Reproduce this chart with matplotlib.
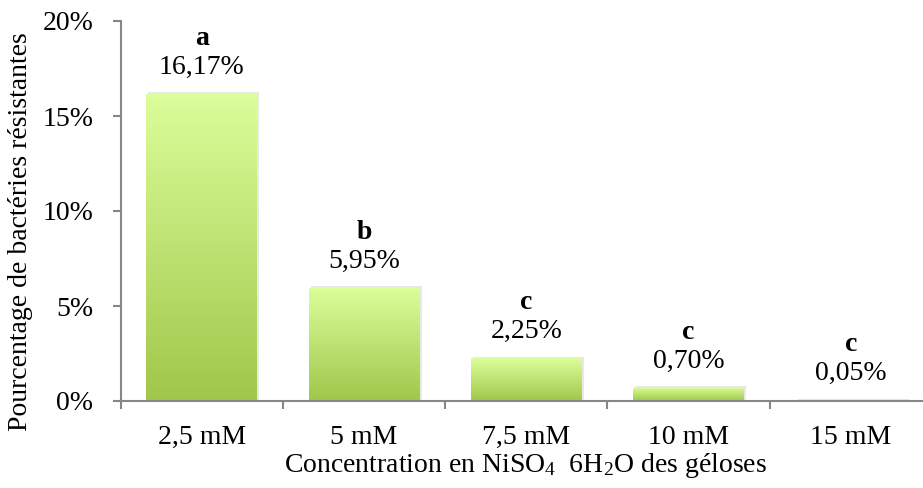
import numpy as np
import matplotlib
matplotlib.use('Agg')
import matplotlib.pyplot as plt
from matplotlib.colors import LinearSegmentedColormap
from matplotlib.patches import Rectangle

categories = ['2,5 mM', '5 mM', '7,5 mM', '10 mM', '15 mM']
values = [16.17, 5.95, 2.25, 0.70, 0.05]
letters = ['a', 'b', 'c', 'c', 'c']

plt.rcParams['font.family'] = ['Liberation Serif', 'DejaVu Serif']
plt.rcParams['mathtext.fontset'] = 'custom'
plt.rcParams['mathtext.rm'] = 'Liberation Serif'
plt.rcParams['mathtext.it'] = 'Liberation Serif:italic'
plt.rcParams['mathtext.bf'] = 'Liberation Serif:bold'

fs = 20
W, H = 923, 488
fig = plt.figure(figsize=(W / 100, H / 100), dpi=100)
# axes runs a bit past the right edge, like the original
ax = fig.add_axes([120.5 / W, 1 - 401 / H, (932 - 120.5) / W, (401 - 21) / H])

grad = LinearSegmentedColormap.from_list('vert', ['#a0c74a', '#dcfe9b'])
gimg = np.linspace(0, 1, 256).reshape(-1, 1)

x = np.arange(len(categories))
bw = 0.68
bars = ax.bar(x, values, width=bw, color='none', edgecolor='none', zorder=3)
for b in bars:
    x0, y0 = b.get_x(), b.get_y()
    w, h = b.get_width(), b.get_height()
    # soft shadow
    sh = Rectangle((x0 + 0.012, y0), w + 0.004, h + 0.08, facecolor='#d9d9d9',
                   edgecolor='none', alpha=0.6, zorder=2)
    ax.add_patch(sh)
    im = ax.imshow(gimg, cmap=grad, extent=[x0, x0 + w, y0, y0 + h],
                   origin='lower', aspect='auto', zorder=3)
    im.set_clip_path(b)

for xi, v, l in zip(x, values, letters):
    ax.annotate(f'{v:.2f}%'.replace('.', ','), (xi, v), xytext=(0, 10),
                textcoords='offset points', ha='center', va='bottom', fontsize=fs)
    ax.annotate(l, (xi, v), xytext=(0, 31), textcoords='offset points',
                ha='center', va='bottom', fontsize=fs, fontweight='bold')

ax.set_xlim(-0.5, len(categories) - 0.5)
ax.set_ylim(0, 20)
ax.set_yticks([0, 5, 10, 15, 20])
ax.set_yticklabels([f'{t}%' for t in [0, 5, 10, 15, 20]])
ax.set_xticks(x)
ax.set_xticklabels(categories)
ax.set_xticks(np.arange(-0.5, len(categories), 1), minor=True)

gray = '#868686'
for s in ['top', 'right']:
    ax.spines[s].set_visible(False)
for s in ['left', 'bottom']:
    ax.spines[s].set_color(gray)
    ax.spines[s].set_linewidth(1.5)
    ax.spines[s].set_zorder(4)

ax.tick_params(axis='y', length=5.5, width=1.5, color=gray, pad=14, labelsize=fs)
ax.tick_params(axis='x', which='major', length=0, pad=17, labelsize=fs)
ax.tick_params(axis='x', which='minor', length=5.5, width=1.5, color=gray)

fig.text(526 / W, 1 - 466 / H,
         r'Concentration en NiSO$_{\mathrm{4}}$  6H$_{\mathrm{2}}$O des géloses',
         ha='center', va='center', fontsize=fs)
fig.text(21 / W, 1 - 232 / H, 'Pourcentage de bactéries résistantes',
         rotation=90, ha='center', va='center', fontsize=fs)

fig.savefig('out.png', dpi=100)
